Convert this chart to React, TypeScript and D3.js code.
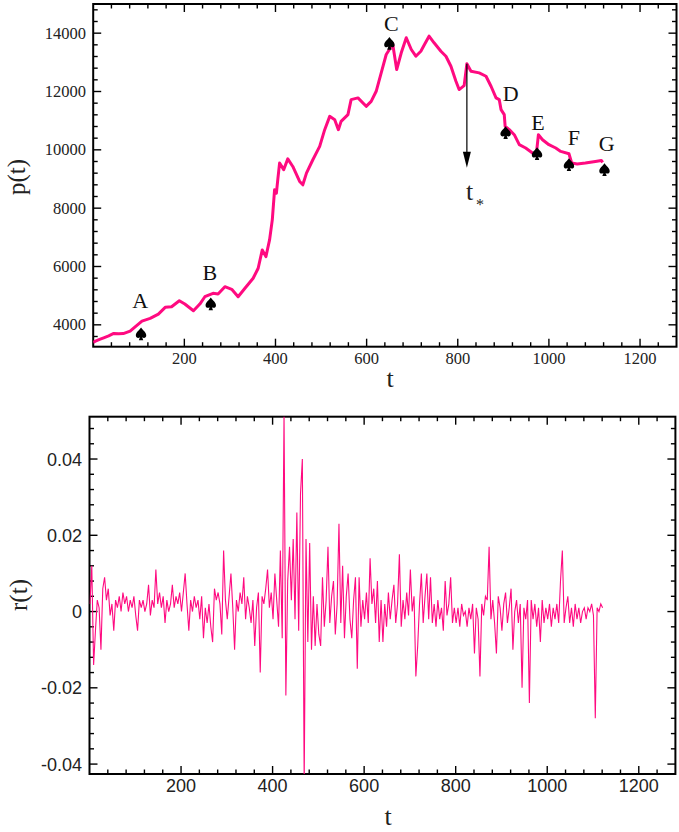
import React from 'react';
import * as d3 from 'd3';

// ---------- data: price p(t) ----------
const priceT = [0, 5, 14, 23, 34, 45, 56, 66, 81, 92, 107, 125, 143, 158, 172, 189, 201, 220, 234, 245, 263, 274, 289, 304, 318, 333, 351, 362, 371, 379, 387, 393, 398, 402, 405, 409, 413, 418, 427, 438, 453, 460, 468, 482, 497, 508, 519, 530, 538, 544, 559, 566, 581, 599, 610, 621, 632, 643, 650, 657, 666, 676, 687, 698, 708, 719, 727, 737, 748, 763, 774, 785, 796, 803, 814, 820, 829, 847, 862, 873, 884, 891, 895, 902, 904, 913, 924, 935, 949, 964, 972, 977, 986, 1000, 1015, 1026, 1044, 1050, 1062, 1080, 1102, 1115, 1118];
const priceP = [3400, 3441, 3500, 3555, 3620, 3705, 3690, 3700, 3785, 3933, 4128, 4221, 4369, 4599, 4620, 4826, 4713, 4482, 4713, 4963, 5080, 5056, 5307, 5217, 4963, 5252, 5596, 5939, 6568, 6338, 6911, 7599, 8630, 8516, 8973, 9547, 9450, 9317, 9690, 9430, 8915, 8801, 9203, 9660, 10117, 10691, 11148, 11035, 10691, 10976, 11207, 11722, 11780, 11492, 11663, 12007, 12639, 13268, 13440, 13650, 12753, 13327, 13842, 13440, 13210, 13382, 13612, 13897, 13670, 13382, 13210, 12866, 12350, 12066, 12200, 12950, 12694, 12639, 12523, 12179, 11780, 11722, 11378, 11207, 10804, 10691, 10519, 10176, 10062, 9891, 9798, 10519, 10347, 10176, 10062, 9946, 9866, 9547, 9513, 9547, 9602, 9636, 9568];

// ---------- markers ----------
const markerLabels = ['A', 'B', 'C', 'D', 'E', 'F', 'G'];
const markerT = [105, 258, 650, 905, 974, 1044, 1122];
const markerP = [3682, 4713, 13646, 10588, 9866, 9488, 9316];
const labelT = [103, 256, 654, 916, 976, 1055, 1127];
const labelP = [4575, 5537, 14060, 11664, 10691, 10176, 9970];
const arrowT = 820;
const arrowFromP = 12950;
const arrowToP = 9385;

// ---------- data: returns r(t), in units of 1e-3, t = 1, 5, 9, ... ----------
const returnsStart = 1;
const returnsStep = 4;
const returnsPerMille = [
  2, 12, -14, -5, 3, 1, -10, 6, 9, 3,
  6, -1, 2, -5, 3, 1, 4, 0, 5, 2,
  4, 0, 3, 1, 4, -1, -5, 3, 1, 3,
  0, 2, 7, -1, 3, 1, 11, 2, 5, 1,
  4, -3, 3, 0, 2, 7, 1, 4, 2, 5,
  0, 5, 10, 2, -5, 3, 0, 4, 1, 3,
  -2, 4, -7, 1, -3, 2, -4, -8, 6, 3,
  5, 2, -6, 16, 3, -2, 4, 10, 1, -10,
  3, 0, 5, 2, 9, -2, 4, 1, -3, 3,
  -9, 1, 5, -16, 4, 2, 6, 11, 1, 5,
  -2, 10, 3, -4, 16, -7, 52, -22, 8, 17,
  3, 19, -2, 26, -5, 31, 40, -45, 19, -8,
  18, -10, 4, -9, 2, -6, -9, 9, -4, 3,
  17, -3, 4, 8, -6, 2, 23, -3, 12, -7,
  4, 10, -2, -7, 3, 9, -15, 9, -4, 3,
  -2, 5, -3, 14, 2, 6, -3, 8, -8, 3,
  -8, 2, -4, 5, -2, 3, 7, -3, 2, 15,
  -4, 3, -2, 5, -1, 11, 0, 4, -17, -9,
  2, 10, -3, 4, 10, -2, 9, -3, 2, -4,
  3, -2, 1, -5, 8, -1, 2, 9, -3, 1,
  -3, 1, -4, 2, -1, 0, -4, 1, -2, 2,
  -11, 1, -2, -17, 2, -1, 4, 3, 17, -2,
  3, -3, -11, 4, 1, -5, 2, 5, -3, 1,
  6, -10, 0, 3, -3, 2, -20, 1, -2, 3,
  -24, 3, -2, 2, -4, 1, -8, 3, -3, 1,
  -2, 2, -4, 1, -2, 2, -3, 8, 16, -3,
  1, 4, -3, 1, -4, 2, -2, 1, -3, 0,
  1, -2, 1, 0, 2, -1, -28, 1, 0, 2,
  1,
];

// ---------- ticks ----------
const xMajorTicks = [200, 400, 600, 800, 1000, 1200];
const topYMajorTicks = [4000, 6000, 8000, 10000, 12000, 14000];
const bottomYMajorTicks = [-0.04, -0.02, 0, 0.02, 0.04];
const bottomYTickLabels = ['-0.04', '-0.02', '0', '0.02', '0.04'];

const PINK = '#ff0a80';
const SERIF = '"Liberation Serif", "Times New Roman", serif';
const SANS = '"Liberation Sans", Arial, sans-serif';

// spade glyph drawn as a path, centred on (0,0)
const SPADE =
  'M0,-6.5 C1.8,-3.6 5.2,-1.8 5.2,1.4 C5.2,3.6 2.9,4.6 1.1,3.1 L2.2,6.2 L-2.2,6.2 L-1.1,3.1 C-2.9,4.6 -5.2,3.6 -5.2,1.4 C-5.2,-1.8 -1.8,-3.6 0,-6.5 Z';

function Frame({ x, y, xMinor, yMinor, yMajor, clipId }: any) {
  const [x0, x1] = x.range();
  const [y0, y1] = y.range();
  const MAJ = 8;
  const MIN = 4.5;
  const els: any[] = [];
  xMinor.forEach((v: number, i: number) => {
    const isMaj = xMajorTicks.some((m) => Math.abs(m - v) < 1e-9);
    const L = isMaj ? MAJ : MIN;
    const px = x(v);
    els.push(<line key={'xb' + i} x1={px} x2={px} y1={y0} y2={y0 - L} />);
    els.push(<line key={'xt' + i} x1={px} x2={px} y1={y1} y2={y1 + L} />);
  });
  yMinor.forEach((v: number, i: number) => {
    const isMaj = yMajor.some((m: number) => Math.abs(m - v) < 1e-9);
    const L = isMaj ? MAJ : MIN;
    const py = y(v);
    els.push(<line key={'yl' + i} x1={x0} x2={x0 + L} y1={py} y2={py} />);
    els.push(<line key={'yr' + i} x1={x1} x2={x1 - L} y1={py} y2={py} />);
  });
  return (
    <g>
      <clipPath id={clipId}>
        <rect x={x0} y={y1} width={x1 - x0} height={y0 - y1} />
      </clipPath>
      <g stroke="#000" strokeWidth={1.4}>{els}</g>
      <rect x={x0} y={y1} width={x1 - x0} height={y0 - y1} fill="none" stroke="#000" strokeWidth={2} />
    </g>
  );
}

export default function App() {
  const xTop = d3.scaleLinear().domain([0, 1280]).range([93.2, 676.5]);
  const yTop = d3.scaleLinear().domain([3250, 15000]).range([346.7, 4]);
  const xBot = d3.scaleLinear().domain([0, 1280]).range([89.5, 675.4]);
  const yBot = d3.scaleLinear().domain([-0.0426, 0.0511]).range([774, 416.7]);

  const xMinor = d3.range(40, 1280, 40);
  const topYMinor = d3.range(3600, 15000, 400);
  const botYMinor = d3.range(-40, 52, 4).map((v) => v / 1000);

  const priceData = priceT.map((t, i) => [t, priceP[i]] as [number, number]);
  const priceLine = d3
    .line<[number, number]>()
    .x((d) => xTop(d[0]))
    .y((d) => yTop(d[1]))(priceData);

  const retData = returnsPerMille.map(
    (r, i) => [returnsStart + i * returnsStep, r / 1000] as [number, number]
  );
  const retLine = d3
    .line<[number, number]>()
    .x((d) => xBot(d[0]))
    .y((d) => yBot(d[1]))(retData);

  const ax = xTop(arrowT);
  const ay0 = yTop(arrowFromP);
  const ay1 = yTop(arrowToP);

  return (
    <svg
      width={679}
      height={832}
      style={{ position: 'absolute', left: 0, top: 0, background: '#fff' }}
    >
      <rect x={0} y={0} width={679} height={832} fill="#fff" />
      {/* ---------- TOP PANEL ---------- */}
      <Frame x={xTop} y={yTop} xMinor={xMinor} yMinor={topYMinor} yMajor={topYMajorTicks} clipId="clipTop" />
      <g clipPath="url(#clipTop)">
        <path d={priceLine || ''} fill="none" stroke={PINK} strokeWidth={3} strokeLinejoin="round" />
      </g>
      <g fontFamily={SERIF} fontSize={16.5} fill="#222">
        {xMajorTicks.map((v) => (
          <text key={'tx' + v} x={xTop(v)} y={364} textAnchor="middle">
            {v}
          </text>
        ))}
        {topYMajorTicks.map((v) => (
          <text key={'ty' + v} x={86} y={yTop(v) + 5.5} textAnchor="end">
            {v}
          </text>
        ))}
      </g>
      <text x={390} y={387} textAnchor="middle" fontFamily={SERIF} fontSize={26} fill="#222">
        t
      </text>
      <text
        transform={`translate(25,177) rotate(-90)`}
        textAnchor="middle"
        fontFamily={SERIF}
        fontSize={25}
        fill="#222"
      >
        p(t)
      </text>
      {/* markers */}
      <g fontFamily={SERIF} fontSize={22} fill="#111">
        {markerLabels.map((l, i) => (
          <text key={'ml' + l} x={xTop(labelT[i])} y={yTop(labelP[i])} textAnchor="middle">
            {l}
          </text>
        ))}
      </g>
      <g fill="#000">
        {markerLabels.map((l, i) => (
          <path
            key={'ms' + l}
            d={SPADE}
            transform={`translate(${xTop(markerT[i])},${yTop(markerP[i])})`}
          />
        ))}
      </g>
      {/* arrow t* */}
      <line x1={ax} x2={ax} y1={ay0} y2={ay1 - 14} stroke="#000" strokeWidth={1.2} />
      <path d={`M${ax - 4},${ay1 - 16} L${ax + 4},${ay1 - 16} L${ax},${ay1} Z`} fill="#000" />
      <text x={466} y={200} fontFamily={SERIF} fontSize={26} fill="#222">
        t
      </text>
      <text x={476} y={210} fontFamily={SERIF} fontSize={16} fill="#222">
        *
      </text>

      {/* ---------- BOTTOM PANEL ---------- */}
      <Frame x={xBot} y={yBot} xMinor={xMinor} yMinor={botYMinor} yMajor={bottomYMajorTicks} clipId="clipBot" />
      <g clipPath="url(#clipBot)">
        <path d={retLine || ''} fill="none" stroke={PINK} strokeWidth={1.1} />
      </g>
      <g fontFamily={SANS} fontSize={18} fill="#222">
        {xMajorTicks.map((v) => (
          <text key={'bx' + v} x={xBot(v)} y={792} textAnchor="middle">
            {v}
          </text>
        ))}
        {bottomYMajorTicks.map((v, i) => (
          <text key={'by' + i} x={82} y={yBot(v) + 6.5} textAnchor="end">
            {bottomYTickLabels[i]}
          </text>
        ))}
      </g>
      <text x={388} y={825} textAnchor="middle" fontFamily={SERIF} fontSize={26} fill="#222">
        t
      </text>
      <text
        transform={`translate(27,595) rotate(-90)`}
        textAnchor="middle"
        fontFamily={SERIF}
        fontSize={25}
        fill="#222"
      >
        r(t)
      </text>
    </svg>
  );
}
